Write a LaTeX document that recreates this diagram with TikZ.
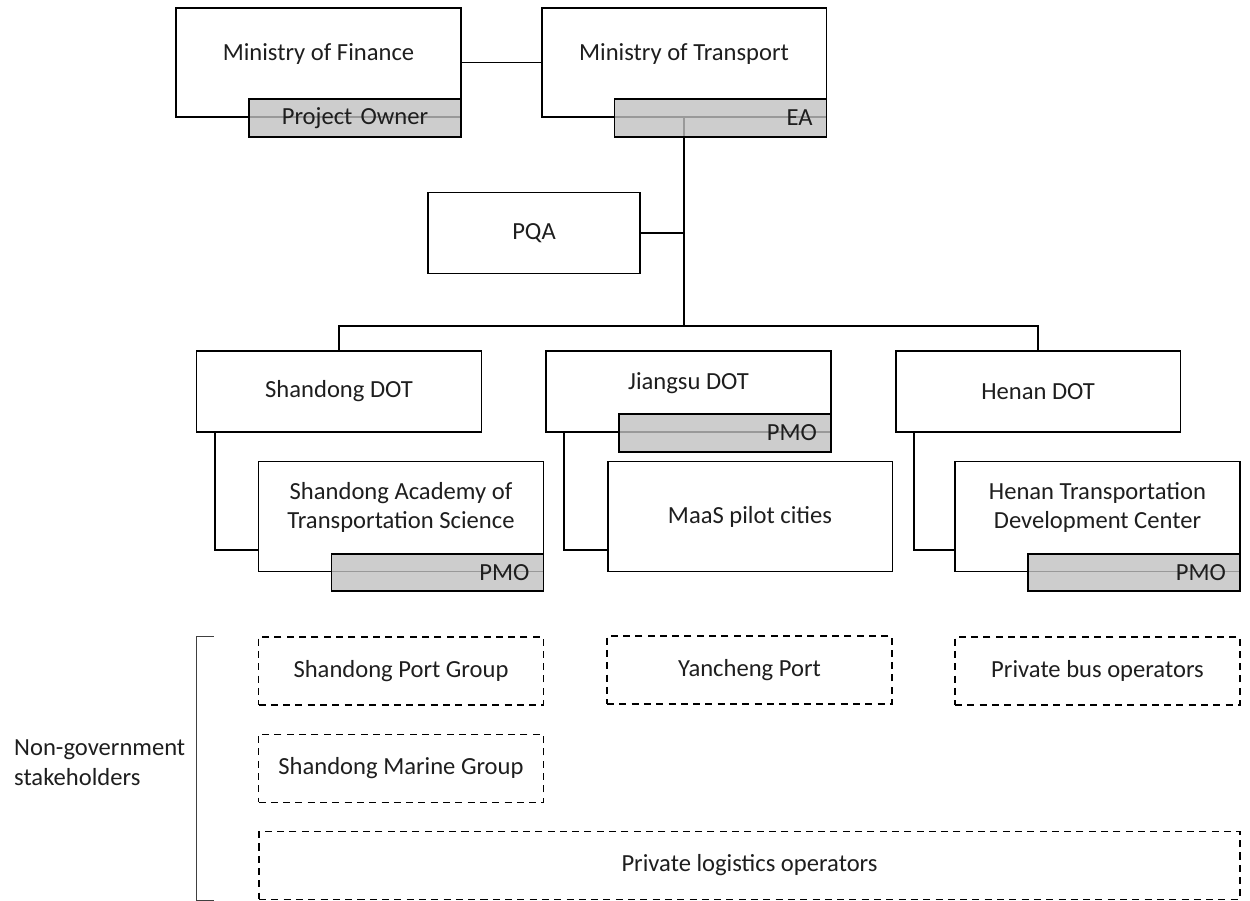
\documentclass[tikz,border=0pt]{standalone}
\usepackage{fontspec}
\setmainfont{Carlito}
\usetikzlibrary{positioning, calc}
\definecolor{taggray}{RGB}{192, 192, 192}
\definecolor{inkgray}{RGB}{30, 30, 30}

\begin{document}
\begin{tikzpicture}[x=0.02cm, y=-0.02cm,
  font=\fontsize{14}{17}\selectfont, text=inkgray,
  box/.style={draw, line width=1.1pt, minimum width=5.7cm, inner sep=2pt, align=center},
  raised/.style={text height=0.33cm, text depth=0.41cm},
  tag/.style={draw, line width=1.1pt, fill=taggray, fill opacity=0.8, text opacity=1,
              anchor=east, minimum height=0.75cm, inner sep=0pt, inner xsep=0.28cm,
              text width=3.68cm},
  ngo/.style={draw, line width=0.9pt, dash pattern=on 4pt off 3pt,
              minimum width=5.7cm, minimum height=1.36cm},
  link/.style={line width=1.1pt},
]
\useasboundingbox (0,0) rectangle (1250,901);

% Ministries
\node[box, raised, minimum height=2.18cm] (mof) at (318.5,62.5) {Ministry of Finance};
\node[box, raised, minimum height=2.18cm] (mot) at (684,62.5) {Ministry of Transport};
\node[box, minimum width=4.24cm, minimum height=1.62cm] (pqa) at (534,233) {PQA};

% Provinces
\node[box, minimum height=1.62cm] (sdot) at (339,391.5) {Shandong DOT};
\node[box, raised, minimum height=1.62cm] (jdot) at (688.5,391.5) {Jiangsu DOT};
\node[box, minimum height=1.62cm] (hdot) at (1038,391.5) {Henan DOT};

\node[box, minimum height=2.2cm, text height=0.93cm, text depth=0.43cm] (sast) at (401,516.5)
{Shandong Academy of\\Transportation Science};
\node[box, minimum height=2.2cm] (maas) at (750,516.5) {MaaS pilot cities};
\node[box, minimum height=2.2cm, text height=0.93cm, text depth=0.43cm] (htdc) at (1097.5,516.5)
{Henan Transportation\\Development Center};

% Links
\coordinate (bus) at (684,326);
\draw[link] (mof) -- (mot);
\draw[link] (mot.south) -- (bus);
\draw[link] (pqa.east) -- (pqa.east -| mot.south);
\draw[link] (sdot.north) |- (bus) -| (hdot.north);
\draw[link] ([xshift=0.38cm]sdot.south west) |- ([yshift=0.44cm]sast.south west);
\draw[link] ([xshift=0.38cm]jdot.south west) |- ([yshift=0.44cm]maas.south west);
\draw[link] ([xshift=0.38cm]hdot.south west) |- ([yshift=0.44cm]htdc.south west);

% Roles
\node[tag, align=center] (owner) at (mof.south east) {Project Owner};
\node[tag, align=right] (ea) at (mot.south east) {EA};
\node[tag, align=right] (jpmo) at (jdot.south east) {PMO};
\node[tag, align=right] (spmo) at (sast.south east) {PMO};
\node[tag, align=right] (hpmo) at (htdc.south east) {PMO};

% Non-government stakeholders
\node[ngo] (sport) at (401,671) {Shandong Port Group};
\node[ngo] (yport) at (749.5,670) {Yancheng Port};
\node[ngo] (pbus) at (1097.5,671) {Private bus operators};
\node[ngo] (smarine) at (401,768.5) {Shandong Marine Group};
\node[ngo, minimum width=19.62cm] (plog) at (749.5,865.5) {Private logistics operators};

\draw[line width=0.5pt, black!75] ([xshift=-0.88cm]sport.north west) -- ++(-17,0)
  |- ([xshift=-0.88cm]plog.south west);
\node[anchor=west, align=left] (ngolabel) at (8,763) {Non-government\\stakeholders};
\end{tikzpicture}
\end{document}
